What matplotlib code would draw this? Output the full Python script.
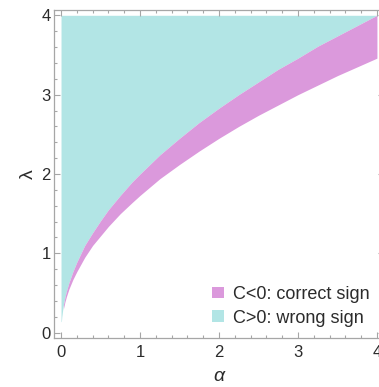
"""
Sign of C over the (alpha, lambda) plane: correct-sign band vs wrong-sign region.
"""
import numpy as np
import matplotlib
matplotlib.use("Agg")
import matplotlib.pyplot as plt
from matplotlib.patches import Patch
from matplotlib.ticker import MultipleLocator

# boundary between C>0 (above) and C<0 (below)
alpha_up = [0.0, 0.005, 0.01, 0.02, 0.03, 0.05, 0.07, 0.1, 0.15, 0.2, 0.3,
            0.4, 0.5, 0.6, 0.75, 0.9, 1.0, 1.25, 1.5, 1.75, 2.0, 2.25, 2.5,
            2.75, 3.0, 3.25, 3.5, 3.75, 4.0]
lam_up = [0.14, 0.14, 0.20, 0.28, 0.35, 0.45, 0.53, 0.63, 0.77, 0.89, 1.10,
          1.26, 1.41, 1.55, 1.73, 1.90, 2.00, 2.24, 2.45, 2.65, 2.83, 3.00,
          3.16, 3.32, 3.46, 3.61, 3.74, 3.87, 4.00]

# lower edge of the C<0 band
alpha_lo = [0.03, 0.05, 0.07, 0.1, 0.15, 0.2, 0.3, 0.4, 0.5, 0.6, 0.75, 0.9,
            1.0, 1.25, 1.5, 1.75, 2.0, 2.25, 2.5, 2.75, 3.0, 3.25, 3.5,
            3.75, 4.0]
lam_lo = [0.30, 0.39, 0.46, 0.55, 0.67, 0.77, 0.95, 1.10, 1.22, 1.34, 1.50,
          1.64, 1.73, 1.94, 2.12, 2.29, 2.45, 2.60, 2.74, 2.87, 3.00, 3.12,
          3.24, 3.35, 3.46]

lam_top = 4.0

CYAN = "#b2e5e5"
MAGENTA = "#db99dc"
FRAME = "#a6a6a6"
TEXT = "#2b2b2b"

plt.rcParams["font.family"] = ["Liberation Sans", "DejaVu Sans"]

fig = plt.figure(figsize=(3.79, 3.87), dpi=100)
ax = fig.add_axes([0.1433, 0.1274, 0.869, 0.8468])

ax.fill_between(alpha_up, lam_up, lam_top, color=CYAN, lw=0)
ax.fill_between(alpha_lo, lam_lo, np.interp(alpha_lo, alpha_up, lam_up),
                color=MAGENTA, lw=0)

ax.set_xlim(-0.085, 4.085)
ax.set_ylim(-0.063, 4.067)
ax.xaxis.set_major_locator(MultipleLocator(1))
ax.xaxis.set_minor_locator(MultipleLocator(0.2))
ax.yaxis.set_major_locator(MultipleLocator(1))
ax.yaxis.set_minor_locator(MultipleLocator(0.2))
ax.tick_params(which="both", direction="in", top=True, right=True,
               color=FRAME, width=0.8, labelsize=12, labelcolor=TEXT)
ax.tick_params(which="major", length=4)
ax.tick_params(which="minor", length=2.5)
ax.tick_params(axis="x", which="major", pad=5)
ax.tick_params(axis="y", which="major", pad=2.5)
for s in ax.spines.values():
    s.set_color(FRAME)
    s.set_linewidth(0.9)

ax.set_xlabel("α", fontsize=14, style="italic", color=TEXT, labelpad=6)
ax.set_ylabel("λ", fontsize=14, color=TEXT, labelpad=3)

handles = [Patch(facecolor=MAGENTA, edgecolor="none", label="C<0: correct sign"),
           Patch(facecolor=CYAN, edgecolor="none", label="C>0: wrong sign")]
ax.legend(handles=handles, loc="lower right", bbox_to_anchor=(0.985, 0.006),
          frameon=False, fontsize=13, handlelength=0.64, handleheight=0.64,
          handletextpad=0.5, labelspacing=0.38, borderpad=0,
          labelcolor=TEXT)

fig.savefig("out.png", dpi=100)
